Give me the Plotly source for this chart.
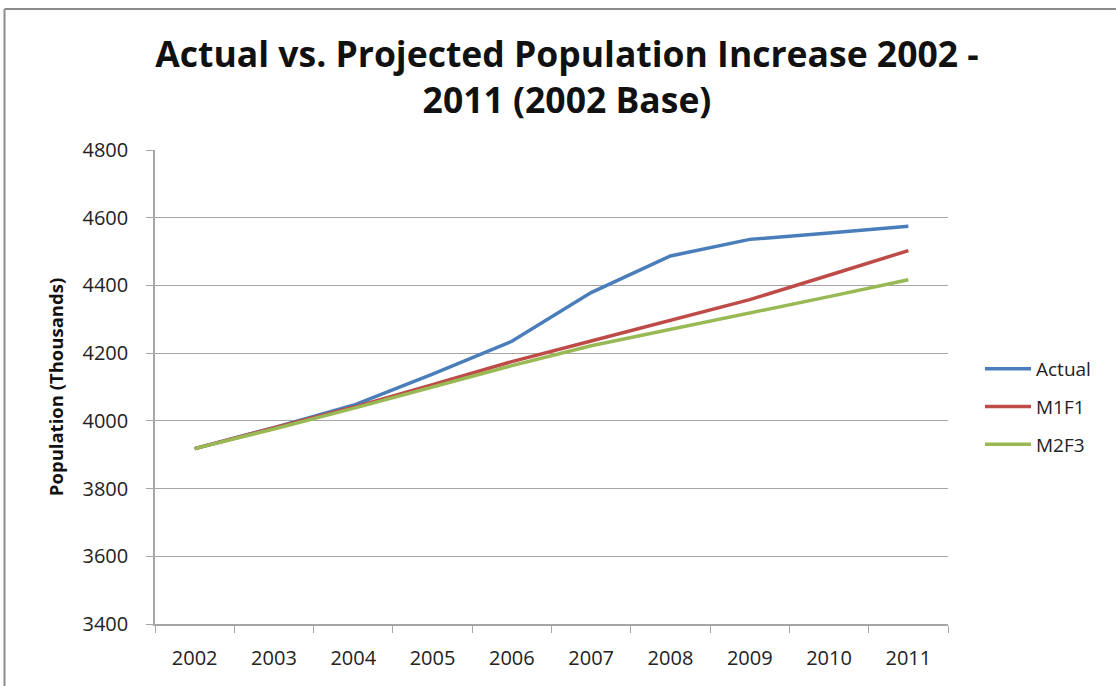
import plotly.graph_objects as go

# Population in thousands, 2002-2011
years = ["2002", "2003", "2004", "2005", "2006", "2007", "2008", "2009", "2010", "2011"]
actual = [3918, 3980, 4046, 4138, 4235, 4379, 4487, 4536, 4555, 4575]
m1f1 = [3918, 3978, 4040, 4107, 4175, 4236, 4297, 4358, 4430, 4503]
m2f3 = [3918, 3976, 4037, 4100, 4163, 4222, 4270, 4318, 4367, 4417]

series_names = ["Actual", "M1F1", "M2F3"]
series_colors = ["#4A7EBB", "#BE4B48", "#98B954"]

W, H = 1116, 686
ML, MR, MT, MB = 155, 168, 150, 62
PW, PH = W - ML - MR, H - MT - MB

fig = go.Figure()
for name, vals, col in zip(series_names, [actual, m1f1, m2f3], series_colors):
    fig.add_trace(go.Scatter(
        x=years, y=vals, name=name, mode="lines",
        line=dict(color=col, width=3.5),
        legendgroup=name,
    ))


def px_x(px):
    return (px - ML) / PW


def px_y(py):
    return (H - MB - py) / PH


border = "#8C8C8C"
fig.add_shape(type="line", xref="paper", yref="paper",
              x0=px_x(4.5), x1=px_x(1130), y0=px_y(9), y1=px_y(9),
              line=dict(color=border, width=2))
fig.add_shape(type="line", xref="paper", yref="paper",
              x0=px_x(4.5), x1=px_x(4.5), y0=px_y(9), y1=px_y(700),
              line=dict(color=border, width=2))

fig.update_layout(
    width=W, height=H,
    margin=dict(l=ML, r=MR, t=MT, b=MB),
    paper_bgcolor="white", plot_bgcolor="white",
    font=dict(family="Open Sans", color="#222222"),
    title=dict(
        text="Actual vs. Projected Population Increase 2002 -<br>2011 (2002 Base)",
        x=567 / W, xanchor="center",
        y=1 - 67 / H, yanchor="top", yref="container",
        font=dict(family="Open Sans", size=35.5, color="#111111", weight="bold"),
    ),
    showlegend=True,
    legend=dict(
        x=px_x(980), xanchor="left",
        y=px_y(407), yanchor="middle",
        font=dict(size=19, color="#222222"),
        tracegroupgap=10,
        itemwidth=46,
        bgcolor="rgba(0,0,0,0)",
    ),
    xaxis=dict(
        type="category",
        range=[-0.5, 9.5],
        showgrid=False,
        showline=True, linecolor="#A6A6A6", linewidth=1.5,
        ticks="outside", tickson="boundaries", ticklen=7, tickcolor="#A6A6A6",
        tickfont=dict(size=20, color="#222222"),
        ticklabelstandoff=15,
        zeroline=False,
    ),
    yaxis=dict(
        range=[3400, 4800], dtick=200, tick0=3400,
        showgrid=True, gridcolor="#A6A6A6", gridwidth=1.3,
        showline=True, linecolor="#A6A6A6", linewidth=1.5,
        ticks="outside", ticklen=7, tickcolor="#A6A6A6",
        tickfont=dict(size=20, color="#222222"),
        ticklabelstandoff=14,
        zeroline=False,
        title=dict(text="Population (Thousands)", standoff=14,
                   font=dict(size=18.5, color="#111111", weight="bold")),
    ),
)

fig.write_html("out.html")
